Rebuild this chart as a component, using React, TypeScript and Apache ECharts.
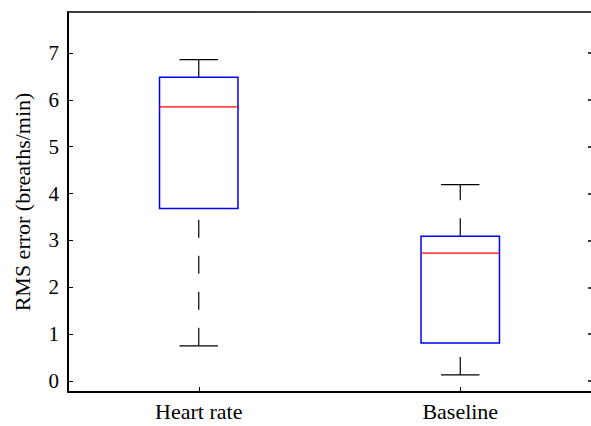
import React, { useEffect, useRef } from "react";
import * as echarts from "echarts";

const categories = ["Heart rate", "Baseline"];
const lowerWhisker = [0.75, 0.13];
const q1Values = [3.68, 0.81];
const medianValues = [5.85, 2.73];
const q3Values = [6.48, 3.09];
const upperWhisker = [6.86, 4.19];
const yTickValues = [0, 1, 2, 3, 4, 5, 6, 7];
const yMin = -0.235;
const yMax = 7.875;

const FONT = "'Liberation Serif', 'Times New Roman', serif";
const FS = 22;

export default function App() {
  const ref = useRef<HTMLDivElement>(null);
  useEffect(() => {
    if (!ref.current) return;
    const chart = echarts.init(ref.current, null, { renderer: "svg" });
    const data = categories.map((_, i) => [
      i,
      lowerWhisker[i],
      q1Values[i],
      medianValues[i],
      q3Values[i],
      upperWhisker[i],
    ]);
    const tickStyle = { color: "#000", width: 1 };
    const lineStyle = { color: "#000", width: 1.5 };
    chart.setOption({
      animation: false,
      backgroundColor: "#fff",
      textStyle: { fontFamily: FONT },
      grid: { left: 68, top: 12, width: 525, height: 380, containLabel: false },
      xAxis: [
        {
          type: "category",
          data: categories,
          position: "bottom",
          boundaryGap: true,
          axisLine: { show: true, onZero: false, lineStyle: { color: "#000", width: 2 } },
          axisTick: { show: true, inside: true, length: 5, alignWithLabel: true, lineStyle: tickStyle },
          axisLabel: { color: "#000", fontFamily: FONT, fontSize: FS, margin: 8 },
          splitLine: { show: false },
        },
        {
          type: "category",
          data: categories,
          position: "top",
          boundaryGap: true,
          axisLine: { show: true, onZero: false, lineStyle },
          axisTick: { show: false },
          axisLabel: { show: false },
          splitLine: { show: false },
        },
      ],
      yAxis: [
        {
          type: "value",
          min: yMin,
          max: yMax,
          position: "left",
          name: "RMS error (breaths/min)",
          nameLocation: "middle",
          nameGap: 35,
          nameTextStyle: { color: "#000", fontFamily: FONT, fontSize: FS },
          axisLine: { show: true, onZero: false, lineStyle: { color: "#000", width: 2 } },
          axisTick: { show: true, inside: true, length: 5, customValues: yTickValues, lineStyle: tickStyle },
          axisLabel: {
            color: "#000",
            fontFamily: FONT,
            fontSize: 21,
            margin: 9,
            customValues: yTickValues,
          },
          splitLine: { show: false },
        },
        {
          type: "value",
          min: yMin,
          max: yMax,
          position: "right",
          offset: 3,
          axisLine: { show: false, onZero: false },
          axisTick: { show: true, inside: true, length: 6, customValues: yTickValues, lineStyle: { color: "#000", width: 1.5 } },
          axisLabel: { show: false },
          splitLine: { show: false },
        },
      ],
      series: [
        {
          type: "custom",
          xAxisIndex: 0,
          yAxisIndex: 0,
          data,
          encode: { x: 0, y: [1, 2, 3, 4, 5] },
          renderItem: (params: any, api: any) => {
            const idx = api.value(0);
            const lw = api.value(1);
            const q1 = api.value(2);
            const med = api.value(3);
            const q3 = api.value(4);
            const uw = api.value(5);
            const band = api.size([1, 0])[0];
            const boxW = band * 0.3;
            const capW = band * 0.147;
            const cx = api.coord([idx, q3])[0];
            const yLw = api.coord([idx, lw])[1];
            const yQ1 = api.coord([idx, q1])[1];
            const yMed = api.coord([idx, med])[1];
            const yQ3 = api.coord([idx, q3])[1];
            const yUw = api.coord([idx, uw])[1];
            const black = { stroke: "#000", lineWidth: 1.2, fill: null };
            const dashed = { stroke: "#000", lineWidth: 1.2, lineDash: [18, 18], fill: null };
            return {
              type: "group",
              children: [
                { type: "line", shape: { x1: cx, y1: yQ3, x2: cx, y2: yUw }, style: dashed },
                { type: "line", shape: { x1: cx, y1: yLw, x2: cx, y2: yQ1 }, style: dashed },
                { type: "line", shape: { x1: cx - capW / 2, y1: yUw, x2: cx + capW / 2, y2: yUw }, style: black },
                { type: "line", shape: { x1: cx - capW / 2, y1: yLw, x2: cx + capW / 2, y2: yLw }, style: black },
                {
                  type: "rect",
                  shape: { x: cx - boxW / 2, y: yQ3, width: boxW, height: yQ1 - yQ3 },
                  style: { stroke: "#0000ff", lineWidth: 1.5, fill: null },
                },
                {
                  type: "line",
                  shape: { x1: cx - boxW / 2, y1: yMed, x2: cx + boxW / 2, y2: yMed },
                  style: { stroke: "#ff0000", lineWidth: 1.3 },
                },
              ],
            };
          },
        },
      ],
    });
    return () => chart.dispose();
  }, []);
  return (
    <div
      ref={ref}
      style={{ position: "absolute", left: 0, top: 0, width: 591, height: 426, background: "#fff" }}
    />
  );
}
